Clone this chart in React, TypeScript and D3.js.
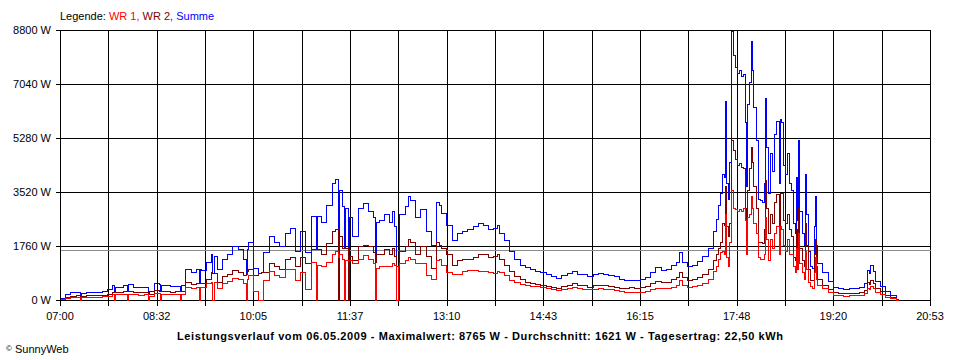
import React from "react";
import * as d3 from "d3";

// ---- data (minutes after 07:00, watts) ----
const minutesAfterSeven = [
  0,5,10,15,19,20,25,30,35,40,
  45,50,52,53,55,60,64,65,70,75,
  80,84,85,90,95,96,97,100,105,110,
  115,116,120,125,130,133,134,135,140,145,
  146,147,150,155,160,165,170,175,178,179,
  180,185,190,192,194,200,205,210,215,220,
  225,230,235,240,245,246,250,255,260,263,
  266,267,270,272,273,276,277,280,285,290,
  295,300,302,303,305,310,315,318,320,322,
  324,325,330,333,335,340,345,350,355,360,
  363,365,370,375,380,385,390,395,400,405,
  410,415,418,420,425,430,435,440,445,450,
  455,460,465,470,475,480,485,490,495,500,
  505,510,515,520,525,530,535,540,545,550,
  555,560,565,570,575,580,585,590,593,596,
  600,605,610,615,620,625,628,630,632,634,
  636,637,638,640,641,642,644,646,648,650,
  652,654,656,657,658,660,662,663,664,666,
  668,670,672,674,675,676,678,680,682,684,
  686,688,689,690,692,694,696,698,700,702,
  704,705,706,707,708,710,712,713,714,716,
  718,720,722,723,724,725,730,735,740,745,
  750,755,760,765,770,773,775,776,778,780,
  785,790,795,800,802,
];

const wr1 = [
  30,80,100,110,0,95,100,100,105,120,
  140,200,0,180,180,200,0,210,180,170,
  180,0,120,230,220,0,210,190,180,180,
  0,190,430,380,440,0,430,430,540,600,
  0,580,400,540,620,720,700,560,0,700,
  800,300,0,0,650,950,820,750,1000,1000,
  650,900,350,1240,0,1150,1100,1250,1500,1600,
  1400,1500,1350,0,1300,1300,1300,1200,1350,1470,
  1350,1200,0,1050,1100,1100,1100,1200,1150,0,
  1100,1200,1300,1400,1350,1200,1200,800,700,1300,
  1350,1150,900,850,850,950,980,980,950,930,
  900,880,950,900,800,650,580,520,490,470,
  460,430,390,360,330,360,380,420,380,370,
  350,370,380,360,350,340,300,260,250,250,
  260,300,360,400,380,400,430,480,650,500,
  430,450,500,560,680,950,1100,1350,1550,1600,
  1500,2800,1400,1100,1900,3580,3000,2950,2900,2950,
  2900,3000,2600,1500,2700,2800,3400,3000,2500,2200,
  1400,1350,1350,1500,2700,2000,1300,2000,1700,2200,
  2400,1500,2400,2300,1800,1600,2000,1500,1500,1100,
  900,1700,1000,2200,1200,900,700,1600,1000,600,
  450,400,900,1400,700,500,400,250,170,150,
  140,150,150,170,220,390,350,450,380,250,
  180,110,60,10,0,
];

const wr2 = [
  40,110,140,150,140,140,150,150,160,175,
  200,270,260,260,260,280,290,300,260,250,
  260,200,180,330,300,300,290,280,270,280,
  290,290,580,520,570,560,560,550,700,900,
  880,880,600,780,860,980,900,800,850,950,
  1000,800,880,900,900,1200,1100,1000,1350,1400,
  1100,1400,1200,1650,1650,1650,1500,1850,2250,2300,
  0,2100,1700,1700,1700,0,1450,1300,1750,1800,
  1750,1550,1250,1500,1500,1650,1500,1700,1450,1100,
  0,1600,1750,2000,1900,1500,1750,1450,1050,1900,
  1800,1700,1500,1150,1300,1350,1350,1400,1500,1500,
  1400,1450,1500,1350,1150,950,780,680,600,560,
  520,500,470,430,400,460,500,560,500,480,
  440,480,500,480,460,440,400,400,410,400,
  420,460,560,620,580,600,680,750,900,750,
  650,680,760,850,1000,1300,1500,1700,1900,2500,
  2450,3700,2400,2100,2500,5200,4900,4600,4400,4450,
  4350,4300,3000,2200,3600,4300,5000,4500,3700,3000,
  1900,1900,1850,2300,3900,3000,2200,2800,2500,3200,
  3450,2300,3500,3500,2600,2500,2800,2300,2100,1400,
  1300,2300,1600,3000,1700,1300,1100,2500,1800,1000,
  650,650,1500,2000,1100,700,500,370,260,230,
  220,230,230,260,330,600,520,650,560,380,
  280,170,90,20,0,
];

const summe = [
  70,190,260,270,150,240,245,250,265,300,
  350,480,270,440,440,490,300,520,440,420,
  440,210,300,570,530,310,500,480,450,460,
  300,480,1020,900,1020,570,1000,980,1250,1500,
  890,1450,1000,1350,1500,1750,1650,1350,860,1650,
  1880,1050,880,900,1560,2100,1900,1750,2200,2350,
  1600,2250,1560,2750,1650,2750,2550,3100,3800,3950,
  1400,3600,3050,1700,3000,1300,2700,2100,3000,3150,
  2900,2700,1250,2550,2600,2800,2550,2900,2400,1100,
  1100,2800,3050,3400,3250,2700,2950,2250,1800,3200,
  3100,2850,2450,1950,2200,2250,2300,2400,2500,2450,
  2300,2350,2450,2200,1950,1600,1350,1150,1080,1000,
  950,900,850,780,720,810,870,960,860,840,
  780,860,880,850,800,780,700,660,660,650,
  690,760,920,1060,980,1000,1130,1250,1560,1250,
  1100,1130,1260,1450,1700,2250,2650,3100,3500,4100,
  4000,6500,3800,3300,4500,8765,8000,7600,7400,7500,
  7300,7350,5800,3700,6400,7100,8450,7500,6300,5200,
  3300,3250,3200,3800,6600,5000,3500,4800,4200,5400,
  5850,3800,5900,5800,4400,4100,4800,3800,3600,2500,
  2200,4000,2600,5200,2900,2200,1800,4100,2800,1600,
  1100,1050,2400,3400,1800,1200,900,620,430,380,
  360,380,380,430,550,980,870,1140,950,630,
  450,280,150,30,0,
];

const xTickLabels = ["07:00", "08:32", "10:05", "11:37", "13:10", "14:43", "16:15", "17:48", "19:20", "20:53"];
const yTicks = [0, 1760, 3520, 5280, 7040, 8800];
const yTickLabels = ["0 W", "1760 W", "3520 W", "5280 W", "7040 W", "8800 W"];
const spanMinutes = 833; // 07:00 -> 20:53
const gridIntervals = 18;
const yMax = 8800;
const average = 1621;
const title = "Leistungsverlauf vom 06.05.2009 - Maximalwert: 8765 W - Durchschnitt: 1621 W - Tagesertrag: 22,50 kWh";

const FONT = "'Liberation Sans', Arial, sans-serif";
const C_WR1 = "#ff0000";
const C_WR2 = "#800000";
const C_SUM = "#0000ff";

export default function App() {
  const W = 960, H = 360;
  const L = 60, R = 930, T = 30, B = 300;
  const x = d3.scaleLinear().domain([0, spanMinutes]).range([L, R]);
  const y = d3.scaleLinear().domain([0, yMax]).range([B, T]);
  const grid = d3.scaleLinear().domain([0, gridIntervals]).range([L, R]);
  const px = (v: number) => Math.round(v) + 0.5;

  const makeLine = (vals: number[]) =>
    d3
      .line<number>()
      .x((_, i) => px(x(minutesAfterSeven[i])))
      .y((v) => px(y(v)))
      .curve(d3.curveStepAfter)(vals) || "";

  const gridIdx = d3.range(gridIntervals + 1);

  return (
    <svg
      width={W}
      height={H}
      style={{ position: "absolute", left: 0, top: 0, background: "#fff", display: "block" }}
      fontFamily={FONT}
      fontSize={11}
    >
      <rect x={0} y={0} width={W} height={H} fill="#fff" />
      {/* legend */}
      <text x={60} y={20} fill="#000">
        <tspan>Legende: </tspan>
        <tspan fill={C_WR1}>WR 1,</tspan>
        <tspan> </tspan>
        <tspan fill={C_WR2}>WR 2,</tspan>
        <tspan> </tspan>
        <tspan fill={C_SUM}>Summe</tspan>
      </text>

      {/* grid */}
      <g stroke="#000" strokeWidth={1} shapeRendering="crispEdges">
        {gridIdx.map((i) => (
          <line key={"v" + i} x1={px(grid(i))} x2={px(grid(i))} y1={px(T)} y2={px(B) + 5} />
        ))}
        {yTicks.map((v) => (
          <line key={"h" + v} x1={px(L) - 5} x2={px(R)} y1={px(y(v))} y2={px(y(v))} />
        ))}
      </g>

      {/* average line */}
      <line
        x1={px(L)}
        x2={px(R)}
        y1={px(y(average))}
        y2={px(y(average))}
        stroke="#8c8c8c"
        strokeWidth={1}
        shapeRendering="crispEdges"
      />

      {/* series */}
      <g fill="none" strokeWidth={1} shapeRendering="crispEdges">
        <path d={makeLine(summe)} stroke={C_SUM} />
        <path d={makeLine(wr2)} stroke={C_WR2} />
        <path d={makeLine(wr1)} stroke={C_WR1} />
      </g>

      {/* y labels */}
      {yTicks.map((v, i) => (
        <text key={"yl" + v} x={51} y={y(v) + 4} textAnchor="end" fill="#000">
          {yTickLabels[i]}
        </text>
      ))}

      {/* x labels */}
      {xTickLabels.map((lab, i) => (
        <text key={"xl" + lab} x={grid(i * 2)} y={320} textAnchor="middle" fill="#000">
          {lab}
        </text>
      ))}

      {/* title */}
      <text
        x={177}
        y={340}
        fontWeight="bold"
        fill="#000"
        textLength={606}
        lengthAdjust="spacing"
      >
        {title}
      </text>

      {/* copyright */}
      <text x={6} y={353} fill="#000">
        <tspan fontSize={8} dy={-2}>©</tspan>
        <tspan dy={2}> SunnyWeb</tspan>
      </text>
    </svg>
  );
}
